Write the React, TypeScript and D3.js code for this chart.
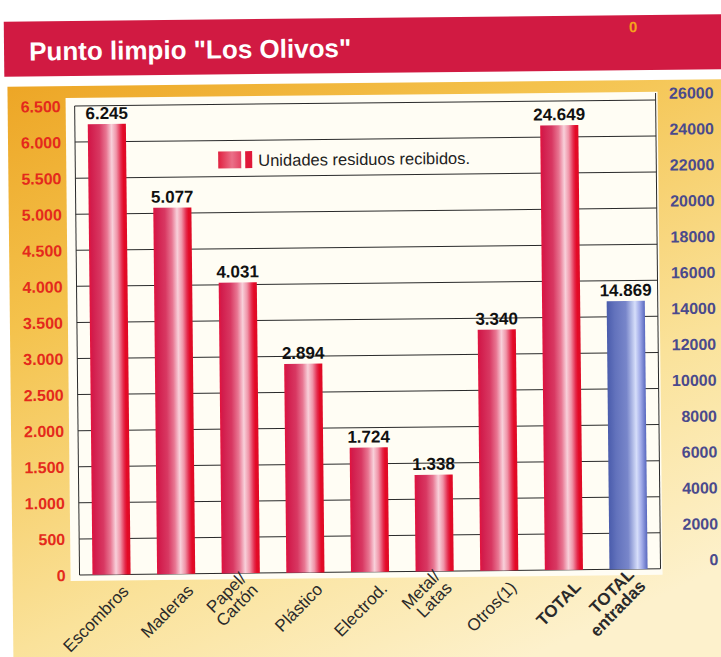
import React from "react";
import * as d3 from "d3";

const title = 'Punto limpio "Los Olivos"';
const legendLabel = "Unidades residuos recibidos.";
const categories = ["Escombros", "Maderas", "Papel/Cartón", "Plástico", "Electrod.", "Metal/Latas", "Otros(1)", "TOTAL", "TOTAL entradas"];
const categoryLines = [["Escombros"], ["Maderas"], ["Papel/", "Cartón"], ["Plástico"], ["Electrod."], ["Metal/", "Latas"], ["Otros(1)"], ["TOTAL"], ["TOTAL", "entradas"]];
const boldCategory = [false, false, false, false, false, false, false, true, true];
const values = [6245, 5077, 4031, 2894, 1724, 1338, 3340, 24649, 14869];
const axisOf = ["left", "left", "left", "left", "left", "left", "left", "right", "right"];
const colorOf = ["red", "red", "red", "red", "red", "red", "red", "red", "blue"];
const leftTicks = [0, 500, 1000, 1500, 2000, 2500, 3000, 3500, 4000, 4500, 5000, 5500, 6000, 6500];
const rightTicks = [0, 2000, 4000, 6000, 8000, 10000, 12000, 14000, 16000, 18000, 20000, 22000, 24000, 26000];

const W = 721;
const H = 657;
const FONT = "Arial, 'Liberation Sans', Helvetica, sans-serif";

const esLocale = d3.formatLocale({ decimal: ",", thousands: ".", grouping: [3], currency: ["", ""] });
const fmtDots = esLocale.format(",d");
const fmtPlain = d3.format("d");

export default function App() {
  const plotLeft = 77;
  const plotRight = 658;
  const plotTop = 103;
  const plotBottom = 572;

  const x = d3.scaleBand<string>().domain(categories).range([plotLeft, plotRight]).paddingInner(0.41).paddingOuter(0.2);
  const yLeft = d3.scaleLinear().domain([0, 6500]).range([plotBottom, plotTop]);
  const yRightBars = d3.scaleLinear().domain([0, 26000]).range([plotBottom, plotTop]);
  const yRightAxis = d3.scaleLinear().domain([0, 26000]).range([plotBottom - 9, plotTop - 7]);

  const barScale = (i: number) => (axisOf[i] === "left" ? yLeft : yRightBars);

  return (
    <svg width={W} height={H} viewBox={`0 0 ${W} ${H}`} style={{ position: "absolute", left: 0, top: 0, display: "block", background: "#fff" }}>
      <defs>
        <linearGradient id="bg" x1="0" y1="0" x2="0.55" y2="1">
          <stop offset="0" stopColor="#eda626" />
          <stop offset="0.3" stopColor="#f4c24c" />
          <stop offset="0.7" stopColor="#fae29a" />
          <stop offset="1" stopColor="#fdf1cc" />
        </linearGradient>
        <linearGradient id="redBar" x1="0" y1="0" x2="1" y2="0">
          <stop offset="0" stopColor="#e4123c" />
          <stop offset="0.07" stopColor="#d21c4c" />
          <stop offset="0.3" stopColor="#d83862" />
          <stop offset="0.48" stopColor="#e87692" />
          <stop offset="0.62" stopColor="#f8d0da" />
          <stop offset="0.74" stopColor="#f094a8" />
          <stop offset="0.86" stopColor="#e42a4c" />
          <stop offset="0.92" stopColor="#e40a26" />
          <stop offset="1" stopColor="#de0a26" />
        </linearGradient>
        <linearGradient id="blueBar" x1="0" y1="0" x2="1" y2="0">
          <stop offset="0" stopColor="#4a5cac" />
          <stop offset="0.2" stopColor="#6272bc" />
          <stop offset="0.5" stopColor="#7886ca" />
          <stop offset="0.74" stopColor="#d6defa" />
          <stop offset="0.86" stopColor="#a0aae8" />
          <stop offset="1" stopColor="#5868be" />
        </linearGradient>
        <linearGradient id="legendGrad" x1="0" y1="0" x2="1" y2="0">
          <stop offset="0" stopColor="#e0203f" />
          <stop offset="0.6" stopColor="#ea7088" />
          <stop offset="1" stopColor="#e44262" />
        </linearGradient>
      </defs>

      <g transform="rotate(-0.6 360 330)">
        {/* title bar */}
        <rect x={7} y={18} width={760} height={55} fill="#d11a42" />
        <text x={32} y={57} fill="#ffffff" fontFamily={FONT} fontWeight="bold" fontSize={26}>
          {title}
        </text>
        <text x={632} y={35} fill="#f5a21c" fontFamily={FONT} fontWeight="bold" fontSize={15}>
          0
        </text>

        {/* background */}
        <rect x={10} y={83} width={760} height={620} fill="url(#bg)" />
        <rect x={68} y={95} width={592} height={483} fill="#fffdf4" />

        {/* gridlines */}
        {leftTicks.map((t) => (
          <line key={"g" + t} x1={plotLeft} x2={plotRight} y1={yLeft(t)} y2={yLeft(t)} stroke="#2a2a2a" strokeWidth={1} />
        ))}
        <line x1={plotLeft} x2={plotLeft} y1={plotTop} y2={plotBottom} stroke="#2a2a2a" strokeWidth={1} />
        <line x1={plotRight} x2={plotRight} y1={plotTop - 7} y2={plotBottom} stroke="#2a2a2a" strokeWidth={1} />

        {/* legend */}
        <rect x={220} y={150} width={23} height={17} fill="url(#legendGrad)" />
        <rect x={247} y={150} width={7} height={17} fill="#e01838" />
        <text x={260} y={165} fill="#222" fontFamily={FONT} fontSize={16.5}>
          {legendLabel}
        </text>

        {/* bars */}
        {categories.map((c, i) => {
          const ys = barScale(i);
          const top = ys(values[i]);
          return (
            <g key={c}>
              <rect x={x(c)} y={top} width={x.bandwidth()} height={plotBottom - top} fill={colorOf[i] === "red" ? "url(#redBar)" : "url(#blueBar)"} />
              <text x={(x(c) as number) + x.bandwidth() / 2} y={top - 5} textAnchor="middle" fill="#111" fontFamily={FONT} fontWeight="bold" fontSize={17}>
                {fmtDots(values[i])}
              </text>
            </g>
          );
        })}

        {/* left axis labels */}
        {leftTicks.map((t) => (
          <text key={"l" + t} x={63} y={yLeft(t) + 6} textAnchor="end" fill="#e42a1c" fontFamily={FONT} fontWeight="bold" fontSize={16}>
            {fmtDots(t)}
          </text>
        ))}

        {/* right axis labels */}
        {rightTicks.map((t) => (
          <text key={"r" + t} x={716} y={yRightAxis(t) + 6} textAnchor="end" fill="#4a4a8c" fontFamily={FONT} fontWeight="bold" fontSize={16}>
            {fmtPlain(t)}
          </text>
        ))}

        {/* category labels */}
        {categories.map((c, i) => {
          const cx = (x(c) as number) + x.bandwidth() / 2;
          const lines = categoryLines[i];
          return (
            <g key={"c" + c} transform={`translate(${cx + 18},${plotBottom + 18}) rotate(-45)`}>
              {lines.map((ln, j) => (
                <text key={j} x={0} y={-(lines.length - 1 - j) * 16.5} textAnchor="end" fill="#2a2a2a" fontFamily={FONT} fontWeight={boldCategory[i] ? "bold" : "normal"} fontSize={17}>
                  {ln}
                </text>
              ))}
            </g>
          );
        })}
      </g>
    </svg>
  );
}
